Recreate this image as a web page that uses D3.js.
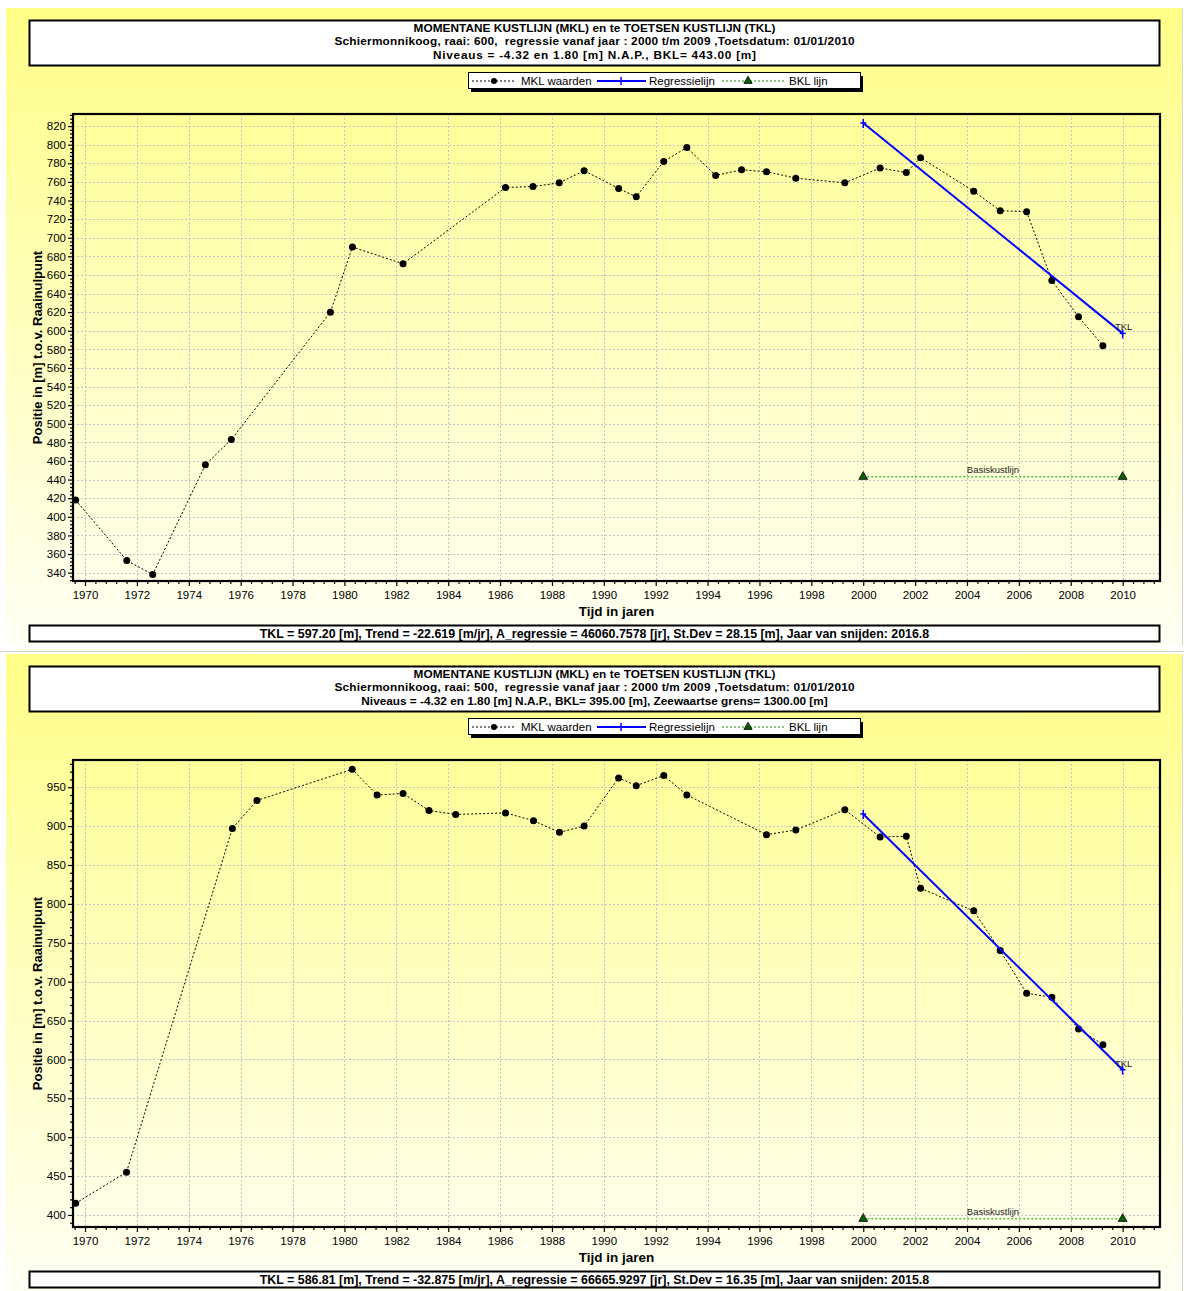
<!DOCTYPE html>
<html><head><meta charset="utf-8">
<script src="https://cdn.jsdelivr.net/npm/d3@7"></script>
<style>
body{margin:0;background:#fff;}
svg{display:block;font-family:"Liberation Sans",Arial,sans-serif;}
</style>
</head><body>
<svg id="c" width="1184" height="1291"></svg>
<script>
// ---------- DATA ----------
const titleLine1 = "MOMENTANE KUSTLIJN (MKL) en te TOETSEN KUSTLIJN (TKL)";
const title2_600 = "Schiermonnikoog, raai: 600,  regressie vanaf jaar : 2000 t/m 2009 ,Toetsdatum: 01/01/2010";
const title3_600 = "Niveaus = -4.32 en 1.80 [m] N.A.P., BKL= 443.00 [m]";
const title2_500 = "Schiermonnikoog, raai: 500,  regressie vanaf jaar : 2000 t/m 2009 ,Toetsdatum: 01/01/2010";
const title3_500 = "Niveaus = -4.32 en 1.80 [m] N.A.P., BKL= 395.00 [m], Zeewaartse grens= 1300.00 [m]";
const stats600 = "TKL = 597.20 [m], Trend = -22.619 [m/jr], A_regressie = 46060.7578 [jr], St.Dev = 28.15 [m], Jaar van snijden: 2016.8";
const stats500 = "TKL = 586.81 [m], Trend = -32.875 [m/jr], A_regressie = 66665.9297 [jr], St.Dev = 16.35 [m], Jaar van snijden: 2015.8";

const legendLabels = ["MKL waarden", "Regressielijn", "BKL lijn"];
const xLabel = "Tijd in jaren";
const yLabel = "Positie in [m] t.o.v. Raainulpunt";
const tklLabel = "TKL";
const bklLabel = "Basiskustlijn";

const xTicks = [1970,1972,1974,1976,1978,1980,1982,1984,1986,1988,1990,1992,1994,1996,1998,2000,2002,2004,2006,2008,2010];
const yTicks600 = [340,360,380,400,420,440,460,480,500,520,540,560,580,600,620,640,660,680,700,720,740,760,780,800,820];
const yTicks500 = [400,450,500,550,600,650,700,750,800,850,900,950];

const years600 = [1969.64,1971.61,1972.61,1974.64,1975.64,1979.46,1980.31,1982.26,1986.21,1987.27,1988.28,1989.24,1990.57,1991.25,1992.31,1993.20,1994.31,1995.31,1996.27,1997.40,1999.29,2000.65,2001.66,2002.21,2004.26,2005.28,2006.30,2007.27,2008.30,2009.24];
const mkl600   = [418,353,338,456,483,620,690,672,754,755,759,772,753,744,782,797,767,773,771,764,759,775,770,786,750,729,728,654,615,584];

const years500 = [1969.64,1971.60,1975.68,1976.63,1980.30,1981.26,1982.26,1983.26,1984.29,1986.21,1987.29,1988.29,1989.24,1990.57,1991.25,1992.31,1993.20,1996.27,1997.40,1999.29,2000.65,2001.66,2002.21,2004.26,2005.28,2006.30,2007.27,2008.30,2009.24];
const mkl500   = [415,455,897,933,973,940,942,920,915,917,907,892,900,962,952,965,940,889,895,921,886,887,820,791,740,685,680,639,619];

const regYears = [2000, 2010];
const reg600 = [823.39, 597.20];
const reg500 = [915.56, 586.81];
const bklYears = [2000, 2010];
const bkl600 = [443, 443];
const bkl500 = [395, 395];

// ---------- LAYOUT ----------
const svg = d3.select("#c");
const defs = svg.append("defs");
const grad = defs.append("linearGradient").attr("id","bg").attr("x1",0).attr("y1",0).attr("x2",0).attr("y2",1);
grad.append("stop").attr("offset","0%").attr("stop-color","#FFFF88");
grad.append("stop").attr("offset","100%").attr("stop-color","#FFFFF4");

const P = {left:73, right:1160, top:114, bottom:581};
const x = d3.scaleLinear().domain([1969.537, 2011.44]).range([P.left, P.right]);

const charts = [
  {oy:0,   panelH:638, t2:title2_600, t3:title3_600, tl:[362,520,323], years:years600, vals:mkl600, reg:reg600, bkl:bkl600, yTicks:yTicks600, yDomain:[331,833], minorStep:4,  stats:stats600},
  {oy:646, panelH:637, t2:title2_500, t3:title3_500, tl:[362,520,null], years:years500, vals:mkl500, reg:reg500, bkl:bkl500, yTicks:yTicks500, yDomain:[384.5,985], minorStep:10, stats:stats500}
];

svg.append("line").attr("x1",0).attr("x2",1184).attr("y1",651.5).attr("y2",651.5).attr("stroke","#d4d4d4");

function draw(c){
  const g = svg.append("g").attr("transform",`translate(0,${c.oy})`);
  const y = d3.scaleLinear().domain(c.yDomain).range([P.bottom, P.top]);

  g.append("rect").attr("x",6).attr("y",8).attr("width",1176).attr("height",c.panelH).attr("fill","url(#bg)");
  g.append("line").attr("x1",1182.5).attr("x2",1182.5).attr("y1",8).attr("y2",8+c.panelH).attr("stroke","#d4d4d4");

  // title box
  g.append("rect").attr("x",29.5).attr("y",20.5).attr("width",1130).attr("height",45)
    .attr("fill","#fff").attr("stroke","#000").attr("stroke-width",2);
  [titleLine1, c.t2, c.t3].forEach((t,i)=>{
    const tx = g.append("text").attr("x",594.5).attr("y",32+i*13.3).attr("text-anchor","middle")
      .attr("font-weight","bold").attr("font-size",11.8).style("white-space","pre").text(t);
    if (c.tl[i]) tx.attr("textLength",c.tl[i]).attr("lengthAdjust","spacing");
  });

  // legend
  const ly = 81;
  g.append("rect").attr("x",471).attr("y",ly-5).attr("width",392).attr("height",16).attr("fill","#000");
  g.append("rect").attr("x",468.5).attr("y",ly-8.5).attr("width",392).attr("height",16).attr("fill","#fff").attr("stroke","#000");
  g.append("line").attr("x1",472).attr("x2",516).attr("y1",ly).attr("y2",ly).attr("stroke","#000").attr("stroke-dasharray","2,2");
  g.append("circle").attr("cx",494).attr("cy",ly).attr("r",3).attr("fill","#000");
  g.append("text").attr("x",521).attr("y",ly+4).attr("font-size",11.5).text(legendLabels[0]);
  g.append("line").attr("x1",597).attr("x2",646).attr("y1",ly).attr("y2",ly).attr("stroke","#0000ff").attr("stroke-width",2);
  g.append("line").attr("x1",621).attr("x2",621).attr("y1",ly-4).attr("y2",ly+4).attr("stroke","#0000ff").attr("stroke-width",1.5);
  g.append("text").attr("x",649).attr("y",ly+4).attr("font-size",11.5).text(legendLabels[1]);
  g.append("line").attr("x1",722).attr("x2",786).attr("y1",ly).attr("y2",ly).attr("stroke","#00a000").attr("stroke-dasharray","2,2");
  g.append("path").attr("transform",`translate(748,${ly})`).attr("d",d3.symbol(d3.symbolTriangle,30)())
    .attr("fill","#0b5d0b").attr("stroke","#000").attr("stroke-width",0.8);
  g.append("text").attr("x",789).attr("y",ly+4).attr("font-size",11.5).text(legendLabels[2]);

  // grid
  const grid = g.append("g").attr("stroke","#c4c4c4").attr("stroke-dasharray","2,2").attr("stroke-width",1);
  c.yTicks.forEach(v=>grid.append("line").attr("x1",P.left).attr("x2",P.right).attr("y1",Math.round(y(v))+0.5).attr("y2",Math.round(y(v))+0.5));
  xTicks.forEach(v=>grid.append("line").attr("y1",P.top).attr("y2",P.bottom).attr("x1",Math.round(x(v))+0.5).attr("x2",Math.round(x(v))+0.5));

  // axes
  const yMinor = d3.range(c.yDomain[0] - c.yDomain[0]%c.minorStep + c.minorStep, c.yDomain[1], c.minorStep).filter(v=>!c.yTicks.includes(v));
  const xMinor = d3.range(1969.6, 2011.44, 0.4).map(v=>+v.toFixed(2)).filter(v=>!xTicks.includes(Math.round(v*100)/100));
  const ya = g.append("g").attr("transform",`translate(${P.left},0)`)
    .call(d3.axisLeft(y).tickValues(c.yTicks).tickSize(5).tickPadding(2).tickFormat(d3.format("d")));
  const yb = g.append("g").attr("transform",`translate(${P.left},0)`)
    .call(d3.axisLeft(y).tickValues(yMinor).tickSize(3).tickFormat(""));
  const xa = g.append("g").attr("transform",`translate(0,${P.bottom})`)
    .call(d3.axisBottom(x).tickValues(xTicks).tickSize(5).tickPadding(5).tickFormat(d3.format("d")));
  const xb = g.append("g").attr("transform",`translate(0,${P.bottom})`)
    .call(d3.axisBottom(x).tickValues(xMinor).tickSize(3).tickFormat(""));
  [ya,yb,xa,xb].forEach(a=>{
    a.select(".domain").remove();
    a.selectAll("line").attr("stroke","#000").attr("stroke-width",1.2);
    a.selectAll("text").attr("font-size",11.5).attr("fill","#000").attr("font-family","Liberation Sans, Arial, sans-serif");
  });

  // frame
  g.append("rect").attr("x",P.left).attr("y",P.top).attr("width",P.right-P.left).attr("height",P.bottom-P.top)
    .attr("fill","none").attr("stroke","#000").attr("stroke-width",2.2);

  // axis titles
  g.append("text").attr("x",(P.left+P.right)/2).attr("y",616).attr("text-anchor","middle")
    .attr("font-weight","bold").attr("font-size",13.5).text(xLabel);
  g.append("text").attr("transform",`translate(42,${(P.top+P.bottom)/2}) rotate(-90)`).attr("text-anchor","middle")
    .attr("font-weight","bold").attr("font-size",13).text(yLabel);

  // BKL line
  const bk = bklYears.map((yr,i)=>[yr,c.bkl[i]]);
  g.append("path").attr("d",d3.line().x(d=>x(d[0])).y(d=>y(d[1]))(bk))
    .attr("fill","none").attr("stroke","#00a000").attr("stroke-width",1).attr("stroke-dasharray","2,2");
  bk.forEach(d=>g.append("path").attr("transform",`translate(${x(d[0])},${y(d[1])})`).attr("d",d3.symbol(d3.symbolTriangle,34)())
    .attr("fill","#0b5d0b").attr("stroke","#000").attr("stroke-width",0.8));
  g.append("text").attr("x",x(d3.mean(bklYears))).attr("y",y(c.bkl[0])-4).attr("text-anchor","middle")
    .attr("font-size",9.5).attr("fill","#222").text(bklLabel);

  // MKL line
  const pts = c.years.map((yr,i)=>[yr,c.vals[i]]);
  g.append("path").attr("d",d3.line().x(d=>x(d[0])).y(d=>y(d[1]))(pts))
    .attr("fill","none").attr("stroke","#000").attr("stroke-width",1).attr("stroke-dasharray","2,2");
  g.selectAll(null).data(pts).enter().append("circle")
    .attr("cx",d=>x(d[0])).attr("cy",d=>y(d[1])).attr("r",3.5).attr("fill","#000");

  // regression
  const rg = regYears.map((yr,i)=>[yr,c.reg[i]]);
  g.append("path").attr("d",d3.line().x(d=>x(d[0])).y(d=>y(d[1]))(rg))
    .attr("fill","none").attr("stroke","#0000ff").attr("stroke-width",2);
  rg.forEach(d=>{
    g.append("line").attr("x1",x(d[0])).attr("x2",x(d[0])).attr("y1",y(d[1])-4).attr("y2",y(d[1])+5)
      .attr("stroke","#0000ff").attr("stroke-width",1.5);
    g.append("line").attr("x1",x(d[0])-3).attr("x2",x(d[0])+3).attr("y1",y(d[1])).attr("y2",y(d[1]))
      .attr("stroke","#0000ff").attr("stroke-width",1.5);
  });
  g.append("text").attr("x",x(regYears[1])+1).attr("y",y(c.reg[1])-3).attr("text-anchor","middle")
    .attr("font-size",9.5).attr("fill","#222").text(tklLabel);

  // stats box
  g.append("rect").attr("x",29.5).attr("y",625.5).attr("width",1130).attr("height",16)
    .attr("fill","#fff").attr("stroke","#000").attr("stroke-width",2);
  g.append("text").attr("x",594.5).attr("y",637.5).attr("text-anchor","middle")
    .attr("font-weight","bold").attr("font-size",12.4).text(c.stats);
}
charts.forEach(draw);
</script>
</body></html>
